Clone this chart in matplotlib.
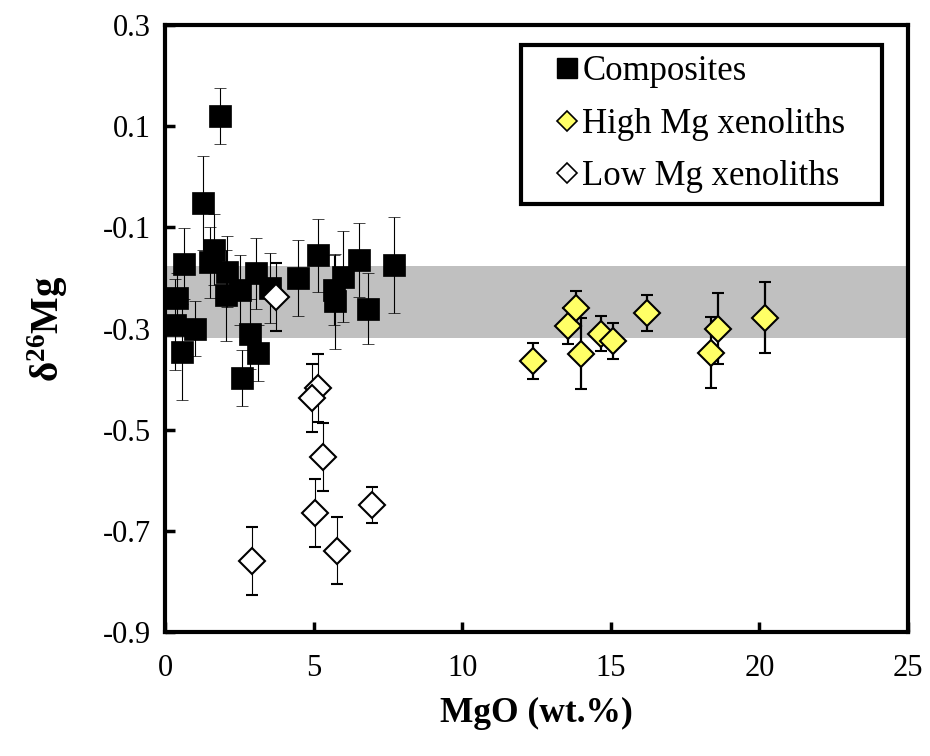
import matplotlib.pyplot as plt
from matplotlib.lines import Line2D

# Composites
comp_mgo = [0.34, 0.41, 0.56, 0.64, 1.01, 1.29, 1.51, 1.66, 1.85, 2.05, 2.08, 2.52, 2.60,
            2.86, 3.05, 3.14, 3.53, 4.49, 5.16, 5.70, 5.72, 5.98, 6.53, 6.82, 7.72]
comp_d26 = [-0.293, -0.240, -0.346, -0.172, -0.300, -0.051, -0.169, -0.144, 0.120, -0.234,
            -0.188, -0.224, -0.398, -0.311, -0.191, -0.349, -0.220, -0.200, -0.155, -0.224,
            -0.246, -0.198, -0.164, -0.261, -0.174]
comp_err = [0.09, 0.05, 0.095, 0.07, 0.055, 0.093, 0.07, 0.07, 0.055, 0.09, 0.07, 0.07, 0.055,
            0.07, 0.07, 0.055, 0.07, 0.075, 0.072, 0.07, 0.094, 0.09, 0.073, 0.07, 0.095]

# High Mg xenoliths
high_mgo = [12.39, 13.55, 13.83, 14.00, 14.67, 15.06, 16.23, 18.36, 18.62, 20.19]
high_d26 = [-0.364, -0.295, -0.259, -0.350, -0.310, -0.325, -0.269, -0.348, -0.300, -0.279]
high_err = [0.035, 0.035, 0.033, 0.07, 0.035, 0.035, 0.035, 0.07, 0.07, 0.07]

# Low Mg xenoliths
low_mgo = [3.72, 5.16, 4.94, 5.33, 5.05, 6.95, 5.78, 2.92]
low_d26 = [-0.237, -0.417, -0.437, -0.554, -0.665, -0.649, -0.739, -0.759]
low_err = [0.067, 0.067, 0.067, 0.067, 0.067, 0.035, 0.067, 0.067]

# mantle range
band_lo, band_hi = -0.318, -0.176

x_ticks = [0, 5, 10, 15, 20, 25]
y_ticks = [0.3, 0.1, -0.1, -0.3, -0.5, -0.7, -0.9]


def main():
    plt.rcParams["font.family"] = ["Liberation Serif", "DejaVu Serif"]
    plt.rcParams["mathtext.fontset"] = "custom"
    plt.rcParams["mathtext.rm"] = "Liberation Serif"
    plt.rcParams["mathtext.bf"] = "Liberation Serif:bold"

    fig = plt.figure(figsize=(9.3, 7.56), dpi=100)
    ax = fig.add_axes([165 / 930, 1 - 632 / 756, 743 / 930, 607 / 756])

    ax.axhspan(band_lo, band_hi, color="#c0c0c0", lw=0, zorder=0)

    ax.errorbar(comp_mgo, comp_d26, yerr=comp_err, fmt="s", ms=16, mfc="black", mec="black",
                mew=0.5, ecolor="black", elinewidth=0.8, capsize=4, capthick=0.8, zorder=2)
    ax.errorbar(low_mgo, low_d26, yerr=low_err, fmt="D", ms=13, mfc="white", mec="black",
                mew=1.5, ecolor="black", elinewidth=0.8, capsize=4.5, capthick=0.8, zorder=3)
    ax.errorbar(high_mgo, high_d26, yerr=high_err, fmt="D", ms=13, mfc="#ffff66", mec="black",
                mew=1.5, ecolor="black", elinewidth=1.6, capsize=4.5, capthick=1.6, zorder=3)

    ax.set_xlim(0, 25)
    ax.set_ylim(-0.9, 0.3)
    ax.set_xticks(x_ticks)
    ax.set_yticks(y_ticks)
    ax.set_yticklabels([f"{v:.1f}" for v in y_ticks])
    ax.tick_params(direction="in", length=7, width=2.5, labelsize=22)
    ax.tick_params(axis="x", pad=16)
    ax.tick_params(axis="y", pad=10)
    for s in ax.spines.values():
        s.set_linewidth(3)

    ax.set_xlabel("MgO (wt.%)", fontsize=25.5, fontweight="bold", labelpad=10)
    ax.set_ylabel(r"$\mathbf{\delta^{26}Mg}$", fontsize=28, labelpad=24)

    handles = [
        Line2D([], [], ls="none", marker="s", ms=15, mfc="black", mec="black"),
        Line2D([], [], ls="none", marker="D", ms=10, mfc="#ffff66", mec="black", mew=1.2),
        Line2D([], [], ls="none", marker="D", ms=10, mfc="white", mec="black", mew=1.2),
    ]
    labels = ["Composites", "High Mg xenoliths   ", "Low Mg xenoliths"]
    leg = ax.legend(handles, labels,
                    loc="upper right", bbox_to_anchor=(0.965, 0.967), borderaxespad=0,
                    fontsize=25, fancybox=False, edgecolor="black", framealpha=1,
                    handlelength=2.07, handletextpad=-0.6, labelspacing=0.56,
                    borderpad=0.3)
    leg.get_frame().set_linewidth(3)

    fig.savefig("out.png", dpi=100)


if __name__ == "__main__":
    main()
